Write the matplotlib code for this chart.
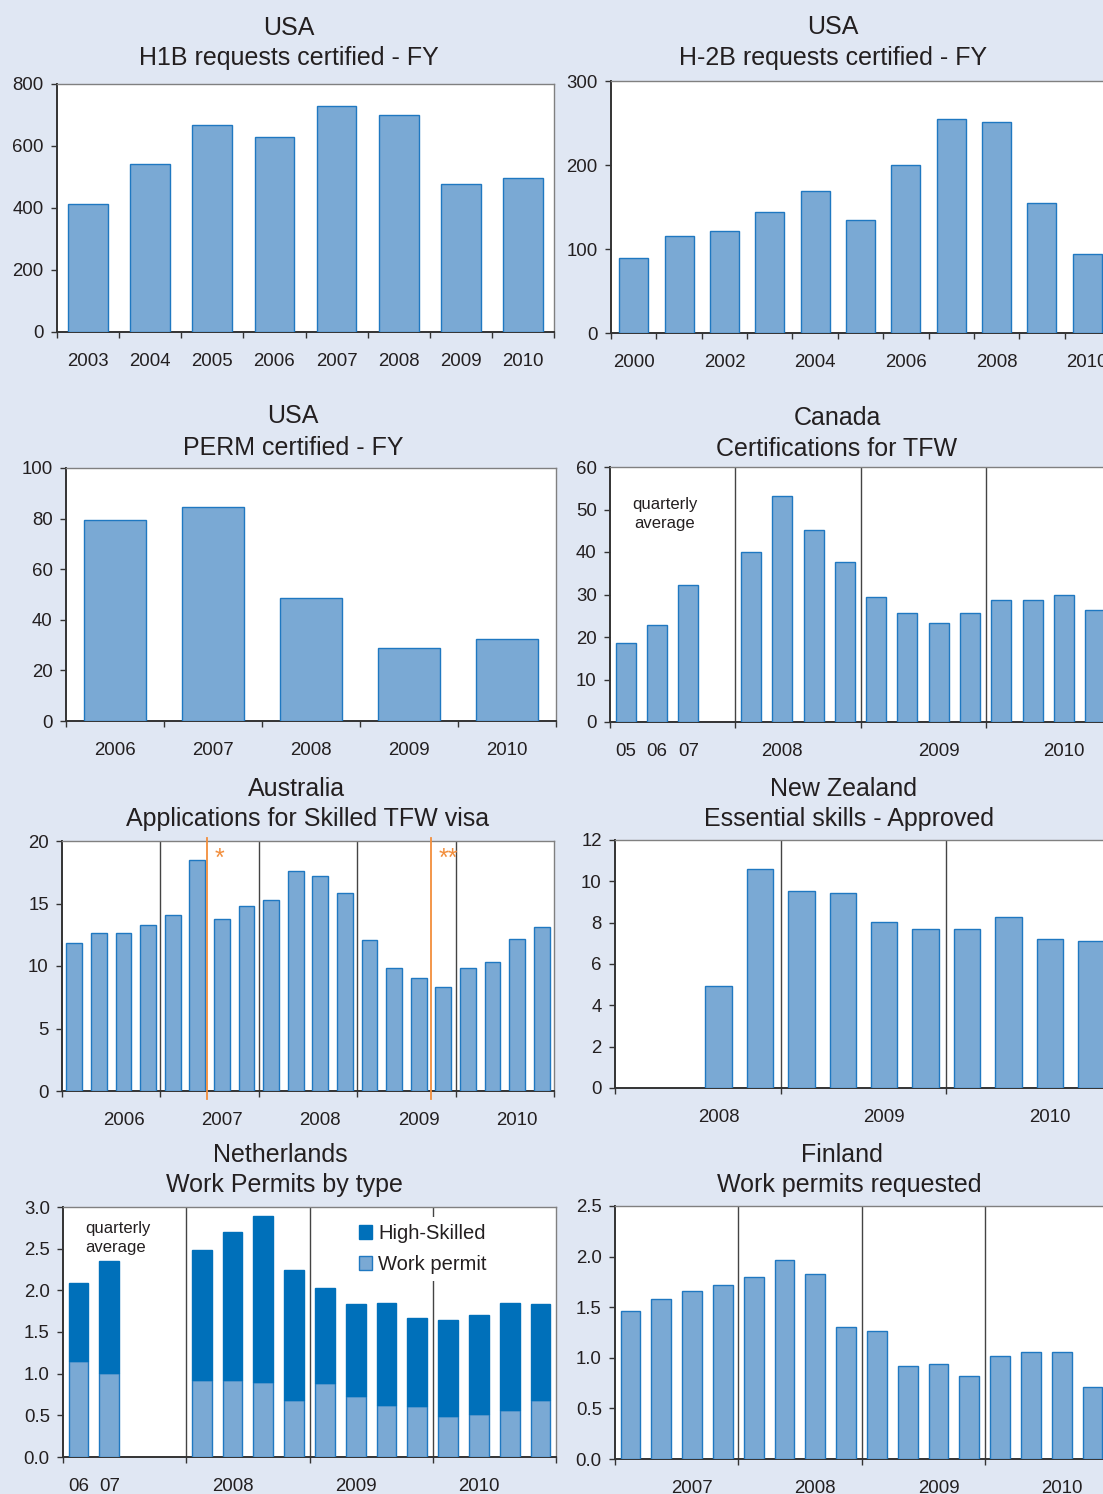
import matplotlib
matplotlib.use("Agg")
import matplotlib.pyplot as plt
import numpy as np
from matplotlib.ticker import FormatStrFormatter
from matplotlib.patches import Patch

plt.rcParams['font.family'] = ['Liberation Sans', 'DejaVu Sans']

# ---- data ----
h1b_years = ['2003', '2004', '2005', '2006', '2007', '2008', '2009', '2010']
h1b = [413, 542, 668, 629, 729, 700, 477, 497]

h2b_years = ['2000', '2001', '2002', '2003', '2004', '2005', '2006', '2007', '2008', '2009', '2010']
h2b = [89, 115, 122, 144, 169, 135, 200, 255, 251, 155, 94]

perm_years = ['2006', '2007', '2008', '2009', '2010']
perm = [79.4, 84.6, 48.6, 28.9, 32.4]

# 05, 06, 07 averages, one empty slot, then quarters 2008-2010
canada_labels = ['05', '06', '07', '2008', '2009', '2010']
canada = [18.7, 22.8, 32.2, None,
          39.9, 53.2, 45.1, 37.6,
          29.5, 25.7, 23.2, 25.6,
          28.6, 28.6, 29.9, 26.4]

australia_years = ['2006', '2007', '2008', '2009', '2010']
australia = [11.85, 12.68, 12.68, 13.29,
             14.09, 18.48, 13.79, 14.78,
             15.29, 17.58, 17.18, 15.87,
             12.06, 9.88, 9.05, 8.36,
             9.83, 10.31, 12.14, 13.16]

nz_years = ['2008', '2009', '2010']
nz = [None, None, 4.93, 10.6,
      9.52, 9.43, 8.03, 7.71,
      7.67, 8.29, 7.2, 7.09]

nl_labels = ['06', '07', '2008', '2009', '2010']
nl_work_permit = [1.15, 1.01, None, None,
                  0.92, 0.92, 0.90, 0.69,
                  0.89, 0.73, 0.63, 0.61,
                  0.49, 0.52, 0.57, 0.69]
nl_high_skilled = [0.94, 1.34, None, None,
                   1.57, 1.78, 1.99, 1.55,
                   1.14, 1.11, 1.22, 1.06,
                   1.16, 1.18, 1.28, 1.15]

finland_years = ['2007', '2008', '2009', '2010']
finland = [1.46, 1.58, 1.66, 1.72,
           1.80, 1.97, 1.83, 1.30,
           1.26, 0.92, 0.94, 0.82,
           1.02, 1.06, 1.06, 0.71]

# ---- style ----
W, H = 1103, 1494
BG = '#e0e7f3'
BAR = '#7aa9d4'
EDGE = '#1f78c1'
DARK = '#0070ba'
TXT = '#231f20'
ORANGE = '#f28e3c'
FS = 13.4
BW = 0.64

fig = plt.figure(figsize=(W / 100, H / 100), dpi=100, facecolor=BG)


def make_axes(l, t, r, b):
    # pixel box -> figure fraction
    ax = fig.add_axes([l / W, 1 - b / H, (r - l) / W, (b - t) / H])
    ax.set_facecolor('white')
    for s in ['top', 'right']:
        ax.spines[s].set_color('#808080')
        ax.spines[s].set_linewidth(1.0)
    for s in ['left', 'bottom']:
        ax.spines[s].set_color('#333333')
        ax.spines[s].set_linewidth(1.4)
    ax.tick_params(axis='y', direction='out', length=4.5, width=1, color='#333333',
                   labelsize=FS, labelcolor=TXT, pad=5)
    ax.tick_params(axis='x', which='major', direction='out', length=4.5, width=1,
                   color='#333333', labelbottom=False)
    ax.tick_params(axis='x', which='minor', length=0, labelsize=FS,
                   labelcolor=TXT, pad=15)
    return ax


def bars(ax, vals, bottom=None, color=BAR, edge=EDGE):
    x = np.arange(len(vals)) + 0.5
    keep = [v is not None for v in vals]
    xs = x[keep]
    ys = [v for v in vals if v is not None]
    bt = None
    if bottom is not None:
        bt = [v for v in bottom if v is not None]
    ax.bar(xs, ys, width=BW, bottom=bt, color=color, edgecolor=edge, linewidth=1, zorder=3)
    ax.set_xlim(0, len(vals))


def xlabels(ax, bounds, pos, labels):
    ax.set_xticks(bounds)
    ax.set_xticks(pos, labels, minor=True)


def separators(ax, xs):
    for x in xs:
        ax.axvline(x, color='#444444', lw=1, zorder=2)


def title(x1, y1, s1, x2, y2, s2):
    fig.text(x1 / W, 1 - y1 / H, s1, ha='center', va='baseline', fontsize=18, color=TXT)
    fig.text(x2 / W, 1 - y2 / H, s2, ha='center', va='baseline', fontsize=18, color=TXT)


# USA H1B
ax = make_axes(57, 84, 554, 332)
bars(ax, h1b)
ax.set_ylim(0, 800)
ax.set_yticks(range(0, 801, 200))
xlabels(ax, np.arange(len(h1b) + 1), np.arange(len(h1b)) + 0.5, h1b_years)
title(289, 35, 'USA', 289, 65, 'H1B requests certified - FY')

# USA H-2B
ax = make_axes(611, 81, 1110, 333)
bars(ax, h2b)
ax.set_ylim(0, 300)
ax.set_yticks([0, 100, 200, 300])
xlabels(ax, np.arange(len(h2b) + 1), np.arange(0, len(h2b), 2) + 0.5, h2b_years[::2])
title(833, 34, 'USA', 833, 65, 'H-2B requests certified - FY')

# USA PERM
ax = make_axes(66, 468, 556, 721)
bars(ax, perm)
ax.set_ylim(0, 100)
ax.set_yticks(range(0, 101, 20))
xlabels(ax, np.arange(len(perm) + 1), np.arange(len(perm)) + 0.5, perm_years)
title(293, 423, 'USA', 293, 455, 'PERM certified - FY')

# Canada
ax = make_axes(610, 467, 1111, 722)
bars(ax, canada)
ax.set_ylim(0, 60)
ax.set_yticks(range(0, 61, 10))
separators(ax, [4, 8, 12])
xlabels(ax, [0, 4, 8, 12, 16], [0.5, 1.5, 2.5, 5.5, 10.5, 14.5], canada_labels)
ax.text(1.75, 49.0, 'quarterly\naverage', ha='center', va='center', fontsize=12,
        color=TXT, linespacing=1.3)
title(837, 425, 'Canada', 837, 456, 'Certifications for TFW')

# Australia
ax = make_axes(62, 841, 554, 1091)
bars(ax, australia)
ax.set_ylim(0, 20)
ax.set_yticks(range(0, 21, 5))
separators(ax, [4, 8, 12, 16])
xlabels(ax, [0, 4, 8, 12, 16, 20], [2.5, 6.5, 10.5, 14.5, 18.5], australia_years)
for xb, mark in [(5.9, '*'), (15.0, '**')]:
    ax.plot([xb, xb], [-0.64, 20.25], color=ORANGE, lw=1.3, clip_on=False, zorder=4)
    ax.text(xb + 0.3, 18.6, mark, color=ORANGE, fontsize=18, ha='left', va='center')
title(297, 796, 'Australia', 308, 826, 'Applications for Skilled TFW visa')

# New Zealand
ax = make_axes(615, 840, 1112, 1088)
bars(ax, nz)
ax.set_ylim(0, 12)
ax.set_yticks(range(0, 13, 2))
separators(ax, [4, 8])
xlabels(ax, [0, 4, 8, 12], [2.5, 6.5, 10.5], nz_years)
title(844, 796, 'New Zealand', 849, 826, 'Essential skills - Approved')

# Netherlands
ax = make_axes(63, 1207, 556, 1457)
bars(ax, nl_work_permit)
bars(ax, nl_high_skilled, bottom=nl_work_permit, color=DARK, edge=DARK)
ax.set_ylim(0, 3)
ax.set_yticks(np.arange(0, 3.01, 0.5))
ax.yaxis.set_major_formatter(FormatStrFormatter('%.1f'))
separators(ax, [4, 8, 12])
xlabels(ax, [0, 4, 8, 12, 16], [0.5, 1.5, 5.5, 9.5, 13.5], nl_labels)
ax.text(0.72, 2.63, 'quarterly\naverage', ha='left', va='center', fontsize=12,
        color=TXT, linespacing=1.3)
handles = [Patch(facecolor=DARK, edgecolor=DARK), Patch(facecolor=BAR, edgecolor=EDGE)]
leg = ax.legend(handles, ['High-Skilled', 'Work permit'], loc='upper left',
                bbox_to_anchor=(352 / W, 1 - 1217 / H), bbox_transform=fig.transFigure,
                frameon=True, fancybox=False, edgecolor='none', facecolor='white',
                framealpha=1, fontsize=14.5, handlelength=0.65, handleheight=0.65,
                handletextpad=0.3, labelspacing=0.6, borderpad=0.35, borderaxespad=0)
for t in leg.get_texts():
    t.set_color(TXT)
title(280, 1162, 'Netherlands', 284, 1192, 'Work Permits by type')

# Finland
ax = make_axes(615, 1206, 1108, 1459)
bars(ax, finland)
ax.set_ylim(0, 2.5)
ax.set_yticks(np.arange(0, 2.51, 0.5))
ax.yaxis.set_major_formatter(FormatStrFormatter('%.1f'))
separators(ax, [4, 8, 12])
xlabels(ax, [0, 4, 8, 12, 16], [2.5, 6.5, 10.5, 14.5], finland_years)
title(842, 1162, 'Finland', 849, 1192, 'Work permits requested')

fig.savefig('out.png', dpi=100, facecolor=BG)
